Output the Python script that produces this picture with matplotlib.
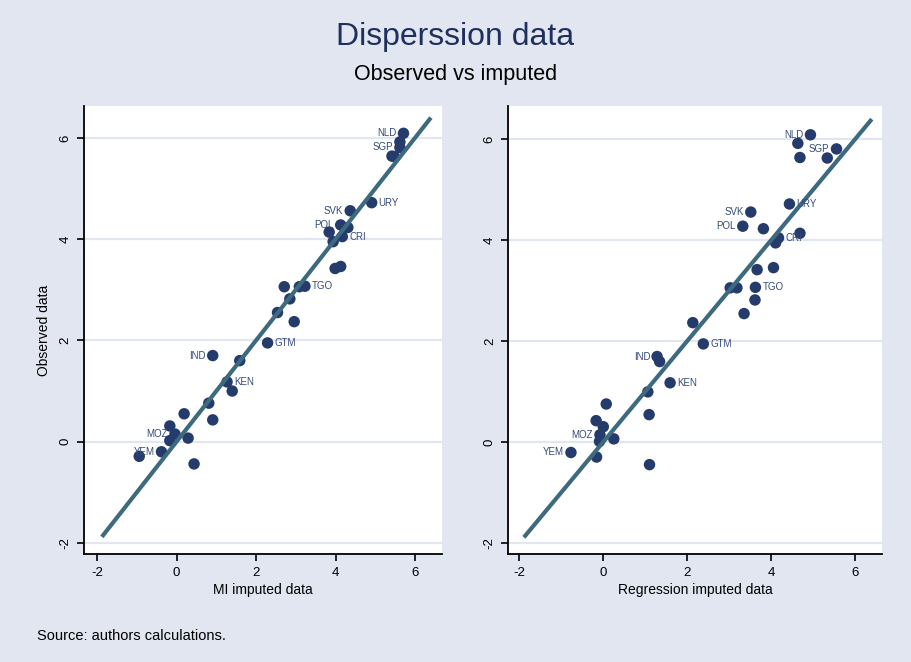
import numpy as np
import matplotlib.pyplot as plt

# country codes ('' = unlabelled point) and label side (9 = left, 3 = right)
codes = ['NLD', '', 'SGP', '', '', 'URY', 'SVK', 'POL', '', 'CRI',
         '', '', '', '', '', '', 'TGO', '', '', '',
         'GTM', 'IND', '', 'KEN', '', '', '', '', '', 'MOZ',
         '', '', 'YEM', '', '']
label_side = {'NLD': 9, 'SGP': 9, 'SVK': 9, 'POL': 9, 'IND': 9, 'MOZ': 9, 'YEM': 9,
              'URY': 3, 'CRI': 3, 'TGO': 3, 'GTM': 3, 'KEN': 3}

observed = [6.09, 5.92, 5.81, 5.64, 5.63, 4.72, 4.56, 4.28, 4.23, 4.05,
            4.14, 3.95, 3.46, 3.42, 3.06, 3.06, 3.07, 2.82, 2.55, 2.37,
            1.95, 1.70, 1.60, 1.18, 1.00, 0.76, 0.55, 0.43, 0.31, 0.15,
            0.02, 0.07, -0.20, -0.29, -0.44]
mi_imputed = [5.71, 5.62, 5.62, 5.42, 5.48, 4.91, 4.37, 4.13, 4.31, 4.17,
              3.84, 3.94, 4.13, 3.99, 2.71, 3.09, 3.23, 2.85, 2.54, 2.96,
              2.29, 0.91, 1.59, 1.27, 1.40, 0.81, 0.19, 0.91, -0.17, -0.04,
              -0.17, 0.29, -0.38, -0.94, 0.44]
reg_imputed = [4.94, 4.64, 5.56, 4.69, 5.34, 4.44, 3.52, 3.33, 3.82, 4.18,
               4.69, 4.11, 4.06, 3.67, 3.03, 3.19, 3.63, 3.62, 3.36, 2.14,
               2.39, 1.29, 1.35, 1.60, 1.07, 0.08, 1.10, -0.16, 0.01, -0.07,
               -0.08, 0.26, -0.76, -0.15, 1.11]

# 45 degree reference line range
line_range = [-1.88, 6.40]
ticks = [-2, 0, 2, 4, 6]

bg = '#e1e6f0'
grid_col = '#e1e6f0'
marker_col = '#243b6b'
line_col = '#3e6a7f'
title_col = '#1f2f5e'

fig = plt.figure(figsize=(9.11, 6.62), dpi=100, facecolor=bg)
plt.rcParams['font.family'] = ['Liberation Sans', 'DejaVu Sans']

ax1 = fig.add_axes([0.0922, 0.1631, 0.393, 0.6768])
ax2 = fig.add_axes([0.558, 0.1631, 0.4105, 0.6768])


def draw_panel(ax, x, xlabel, xlim, ylim):
    ax.set_facecolor('white')
    for t in ticks:
        ax.axhline(t, color=grid_col, lw=1.6, zorder=0)
    ax.scatter(x, observed, s=68, color=marker_col, edgecolors='none', zorder=3)
    ax.plot(line_range, line_range, color=line_col, lw=3.0, zorder=4,
            solid_capstyle='butt')
    for xi, yi, c in zip(x, observed, codes):
        if not c:
            continue
        if label_side[c] == 9:
            ax.annotate(c, (xi, yi), xytext=(-5, 0), textcoords='offset points',
                        ha='right', va='center', fontsize=7, color='#34497a', zorder=5)
        else:
            ax.annotate(c, (xi, yi), xytext=(5, 0), textcoords='offset points',
                        ha='left', va='center', fontsize=7, color='#34497a', zorder=5)
    ax.set_xlim(xlim)
    ax.set_ylim(ylim)
    ax.set_xticks(ticks)
    ax.set_yticks(ticks)
    ax.set_xticklabels([str(t) for t in ticks], fontsize=9.5)
    ax.set_yticklabels([str(t) for t in ticks], fontsize=9.5, rotation=90, va='center')
    ax.tick_params(direction='out', length=5, width=1.2, color='black', pad=4)
    for side in ['top', 'right']:
        ax.spines[side].set_visible(False)
    for side in ['left', 'bottom']:
        ax.spines[side].set_linewidth(1.3)
        ax.spines[side].set_color('black')
    ax.set_xlabel(xlabel, fontsize=10, labelpad=3)


draw_panel(ax1, mi_imputed, 'MI imputed data', (-2.33, 6.68), (-2.22, 6.63))
draw_panel(ax2, reg_imputed, 'Regression imputed data', (-2.25, 6.65), (-2.21, 6.66))
ax1.set_ylabel('Observed data', fontsize=10, labelpad=6)

fig.text(0.5, 0.944, 'Disperssion data', ha='center', va='center',
         fontsize=23, color=title_col)
fig.text(0.5, 0.888, 'Observed vs imputed', ha='center', va='center',
         fontsize=15.5, color='black')
fig.text(0.041, 0.04, 'Source: authors calculations.', ha='left', va='center',
         fontsize=10.5, color='black')

fig.savefig('out.png', dpi=100, facecolor=bg)
